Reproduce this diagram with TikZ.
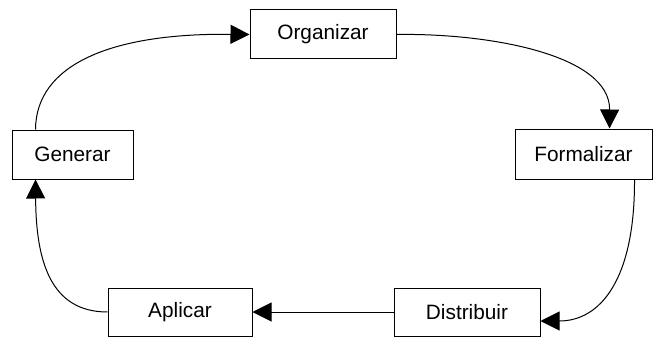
\documentclass[tikz,border=0pt]{standalone}
\usepackage{fontspec}
\setmainfont{Liberation Sans}
\usetikzlibrary{arrows.meta}
\begin{document}
\begin{tikzpicture}[x=1pt,y=-1pt,
  stage/.style={draw,line width=1pt,inner sep=0pt,minimum height=49pt,
    font=\fontsize{20.8}{24}\selectfont},
  flow/.style={line width=1pt,-{Triangle[length=19pt,width=19pt]}}]
\useasboundingbox (0,0) rectangle (653,337);
\node[stage,minimum width=146pt] (org)  at (323,34.5)  {Organizar};
\node[stage,minimum width=121pt] (gen)  at (72.5,154.5) {Generar};
\node[stage,minimum width=137pt,minimum height=50pt] (form) at (583.5,154) {Formalizar};
\node[stage,minimum width=144pt,minimum height=48pt] (apl)  at (180,312)  {Aplicar};
\node[stage,minimum width=146pt,minimum height=48pt] (dist) at (467,312)  {Distribuir};
% the cycle of stages
\draw[flow] ([xshift=24pt]gen.north west) .. controls (36,65) and (110,33) .. (org.west);
\draw[flow] (org.east) .. controls (490,33) and (610,55) .. ([xshift=95pt]form.north west);
\draw[flow] ([xshift=120pt]form.south west) .. controls (635,280) and (600,321) .. ([yshift=-9pt]dist.east);
\draw[flow] (dist.west) -- (apl.east);
\draw[flow] (apl.west) .. controls (50,312) and (36,260) .. ([xshift=24pt]gen.south west);
\end{tikzpicture}
\end{document}
